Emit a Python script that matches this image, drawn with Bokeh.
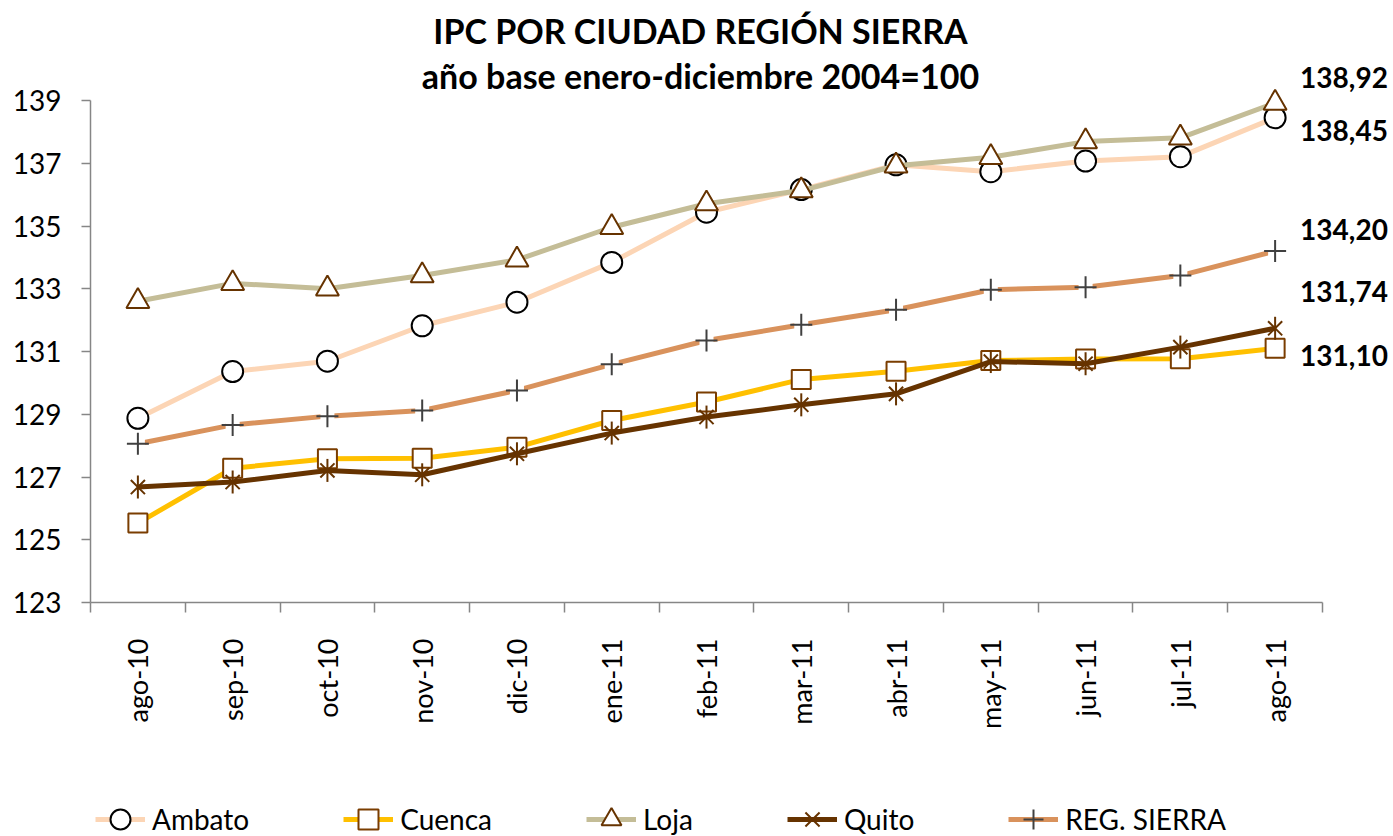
import math
from bokeh.plotting import figure
from bokeh.models import FixedTicker, Legend, LegendItem, Range1d
from bokeh.core.properties import value
from bokeh.embed import file_html
from bokeh.resources import INLINE

# ---------------- data ----------------
months = ["ago-10", "sep-10", "oct-10", "nov-10", "dic-10", "ene-11", "feb-11",
          "mar-11", "abr-11", "may-11", "jun-11", "jul-11", "ago-11"]
ambato = [128.87, 130.36, 130.69, 131.82, 132.57, 133.84, 135.44, 136.16, 136.95, 136.73, 137.07, 137.21, 138.45]
cuenca = [125.53, 127.28, 127.58, 127.60, 127.95, 128.80, 129.39, 130.11, 130.37, 130.71, 130.76, 130.77, 131.10]
loja = [132.60, 133.17, 133.00, 133.42, 133.92, 134.96, 135.71, 136.13, 136.92, 137.19, 137.69, 137.81, 138.92]
quito = [126.68, 126.84, 127.21, 127.07, 127.74, 128.40, 128.91, 129.30, 129.65, 130.68, 130.61, 131.14, 131.74]
sierra = [128.06, 128.66, 128.94, 129.12, 129.76, 130.59, 131.35, 131.85, 132.33, 132.97, 133.05, 133.42, 134.20]
y_ticks = [123, 125, 127, 129, 131, 133, 135, 137, 139]
title_1 = "IPC POR CIUDAD REGIÓN SIERRA"
title_2 = "año base enero-diciembre 2004=100"

# ---------------- layout (pixels) ----------------
W, H = 1392, 835
PLOT_LEFT, PLOT_RIGHT, PLOT_TOP, PLOT_BOTTOM = 90, 1322, 100, 602
TITLE_1_Y, TITLE_2_Y = 30, 75          # text centres, px from top
END_LABEL_NUDGE = [26, -13, 22, 37, -7]  # px upward, order: loja, ambato, sierra, quito, cuenca

FONT = "Lato"
AXIS_COLOR = "#868686"

n = len(months)
x = list(range(n))
px_cat = (PLOT_RIGHT - PLOT_LEFT) / n
x_start = -0.5 - PLOT_LEFT / px_cat
x_end = x_start + W / px_cat
px_unit = (PLOT_BOTTOM - PLOT_TOP) / (y_ticks[-1] - y_ticks[0])
y_end = y_ticks[-1] + PLOT_TOP / px_unit
y_start = y_end - H / px_unit


def py(px_from_top):
    return y_end - px_from_top / px_unit


p = figure(width=W, height=H, output_backend="svg", toolbar_location=None,
           x_range=Range1d(x_start, x_end), y_range=Range1d(y_start, y_end),
           min_border=0, min_border_left=0, min_border_right=0,
           min_border_top=0, min_border_bottom=0)
p.title = None
p.outline_line_color = None
p.background_fill_color = "white"
p.border_fill_color = "white"
p.xgrid.visible = False
p.ygrid.visible = False

# ---------------- axes (fixed inside the canvas) ----------------
xa = p.xaxis[0]
xa.fixed_location = y_ticks[0]
xa.bounds = (-0.5, n - 0.5)
xa.ticker = FixedTicker(ticks=x, minor_ticks=[i - 0.5 for i in range(n + 1)])
xa.major_label_overrides = {i: m for i, m in enumerate(months)}
xa.major_label_orientation = math.pi / 2
xa.major_tick_line_color = None
xa.major_tick_out = 10
xa.major_tick_in = 0
xa.minor_tick_out = 10
xa.minor_tick_in = 0
xa.minor_tick_line_color = AXIS_COLOR
xa.minor_tick_line_width = 1.5
xa.axis_line_color = AXIS_COLOR
xa.axis_line_width = 1.5
xa.major_label_text_font = FONT
xa.major_label_text_font_size = "27px"
xa.major_label_text_color = "black"
xa.major_label_standoff = 26

ya = p.yaxis[0]
ya.fixed_location = -0.5
ya.bounds = (y_ticks[0], y_ticks[-1])
ya.ticker = FixedTicker(ticks=y_ticks)
ya.major_tick_out = 9
ya.major_tick_in = 0
ya.minor_tick_line_color = None
ya.major_tick_line_color = AXIS_COLOR
ya.major_tick_line_width = 1.5
ya.axis_line_color = AXIS_COLOR
ya.axis_line_width = 1.5
ya.major_label_text_font = FONT
ya.major_label_text_font_size = "28px"
ya.major_label_text_color = "black"
ya.major_label_standoff = 20

# ---------------- titles ----------------
mid = (n - 1) / 2
p.text(x=[mid, mid], y=[py(TITLE_1_Y), py(TITLE_2_Y)], text=[title_1, title_2],
       text_font=value(FONT), text_font_size="34px", text_font_style="bold",
       text_color="black", text_align="center", text_baseline="middle", x_offset=-6)

# ---------------- series ----------------
LW = 5
items = []

l1 = p.line(x, ambato, line_color="#FCD5B5", line_width=LW)
m1 = p.scatter(x, ambato, marker="circle", size=21, fill_color="white",
               line_color="black", line_width=2)
items.append(LegendItem(label="Ambato", renderers=[l1, m1]))

l2 = p.line(x, cuenca, line_color="#FFC000", line_width=LW)
m2 = p.scatter(x, cuenca, marker="square", size=19, fill_color="white",
               line_color="#7A3D00", line_width=2)
items.append(LegendItem(label="Cuenca", renderers=[l2, m2]))

l3 = p.line(x, loja, line_color="#C4BD97", line_width=LW)
m3 = p.scatter(x, loja, marker="triangle", size=23, fill_color="white",
               line_color="#663300", line_width=2)
items.append(LegendItem(label="Loja", renderers=[l3, m3]))

l4 = p.line(x, quito, line_color="#663300", line_width=LW)
m4a = p.scatter(x, quito, marker="x", size=20, line_color="#663300", line_width=2)
m4b = p.scatter(x, quito, marker="dash", angle=math.pi / 2, size=23,
                line_color="#663300", line_width=2)
items.append(LegendItem(label="Quito", renderers=[l4, m4a, m4b]))

l5 = p.line(x, sierra, line_color="#D9925C", line_width=LW)
b5 = p.scatter(x, sierra, marker="square", size=14, fill_color="white", line_color=None)
m5 = p.scatter(x, sierra, marker="cross", size=22, line_color="#404040", line_width=2)
items.append(LegendItem(label="REG. SIERRA", renderers=[l5, m5]))

legend = Legend(items=items, location=(95, -10), orientation="horizontal",
                label_text_font=FONT, label_text_font_size="28px", label_text_color="black",
                glyph_width=50, glyph_height=52, label_standoff=7, spacing=94,
                padding=0, margin=0, border_line_color=None, background_fill_alpha=0)
p.add_layout(legend)

# ---------------- end values ----------------
ends = [loja, ambato, sierra, quito, cuenca]
end_vals = [s[-1] for s in ends]
p.text(x=[x[-1]] * len(ends), y=end_vals,
       text=[f"{v:.2f}".replace(".", ",") for v in end_vals],
       x_offset=25, y_offset=[-d for d in END_LABEL_NUDGE],
       text_font=value(FONT), text_font_size="28px", text_font_style="bold",
       text_color="black", text_align="left", text_baseline="middle")

open("out.html", "w").write(file_html(p, INLINE))
